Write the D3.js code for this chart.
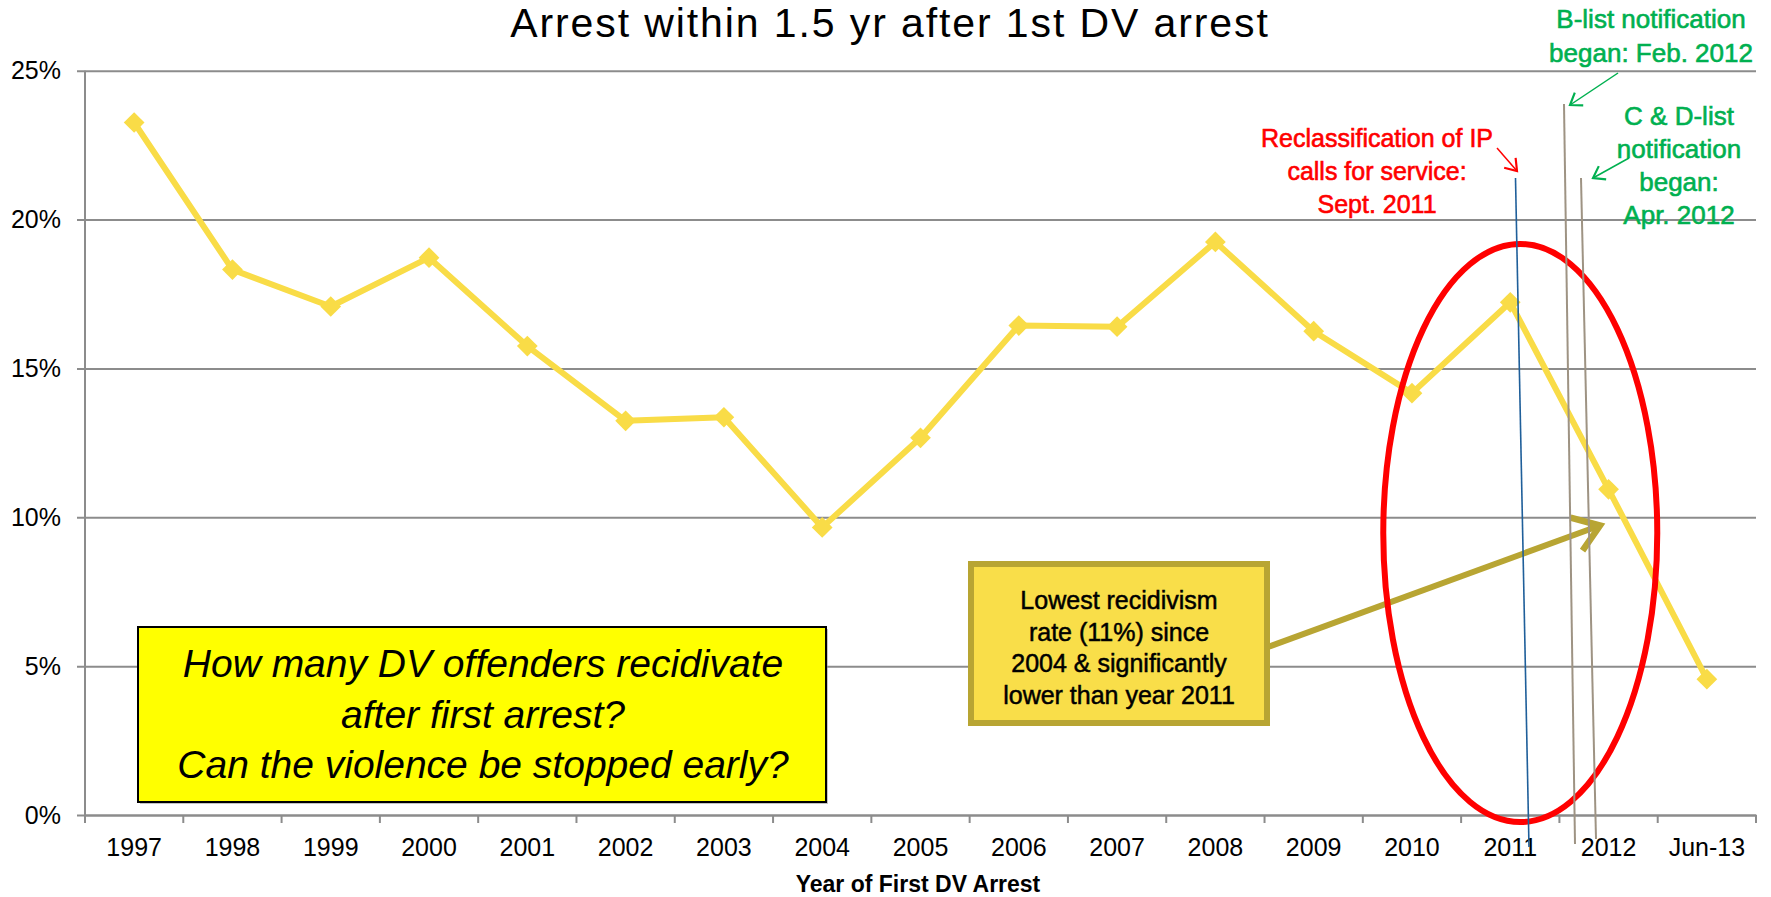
<!DOCTYPE html>
<html>
<head>
<meta charset="utf-8">
<script src="https://cdn.jsdelivr.net/npm/d3@7"></script>
<style>
  html, body {margin:0; padding:0; background:#fff;}
  svg {display:block; font-family:"Liberation Sans", Arial, sans-serif;}
</style>
</head>
<body>
<div class="svgHolder"></div>
<script>

const wd = 1771
const ht = 897

// data (percent re-arrested within 1.5 yr)
const categories = ["1997","1998","1999","2000","2001","2002","2003","2004","2005","2006","2007","2008","2009","2010","2011","2012","Jun-13"]
const rates = [23.26, 18.32, 17.08, 18.72, 15.75, 13.24, 13.36, 9.66, 12.67, 16.44, 16.40, 19.25, 16.25, 14.17, 17.22, 10.94, 4.56]
const yTicks = [0, 5, 10, 15, 20, 25]

const titleText = "Arrest within 1.5 yr after 1st DV arrest"
const xTitle = "Year of First DV Arrest"
const questionLines = ["How many DV offenders recidivate", "after first arrest?", "Can the violence be stopped early?"]
const calloutLines = ["Lowest recidivism", "rate (11%) since", "2004 & significantly", "lower than year 2011"]
const redNote = ["Reclassification of IP", "calls for service:", "Sept. 2011"]
const bNote = ["B-list notification", "began: Feb. 2012"]
const cdNote = ["C & D-list", "notification", "began:", "Apr. 2012"]

const plotL = 85, plotR = 1756, plotT = 70.7, plotB = 815

const svg = d3.select(".svgHolder").append("svg")
.attr("width", wd)
.attr("height", ht)
.attr("viewBox", `0 0 ${wd} ${ht}`)

const x = d3.scaleBand()
.domain(categories)
.range([plotL, plotR])

const y = d3.scaleLinear()
.domain([0, 25])
.range([plotB, plotT])

const defs = svg.append("defs")

// open "V" arrow heads
function addHead(id, col, size, sw) {
  defs.append("marker")
  .attr("id", id)
  .attr("markerUnits", "userSpaceOnUse")
  .attr("viewBox", "-12 -12 24 24")
  .attr("refX", 0)
  .attr("refY", 0)
  .attr("markerWidth", size)
  .attr("markerHeight", size)
  .attr("orient", "auto")
  .append("path")
  .attr("d", "M-10,-7 L0,0 L-10,7")
  .attr("fill", "none")
  .attr("stroke", col)
  .attr("stroke-width", sw)
}
addHead("redHead", "#ff0000", 26, 2)
addHead("greenHead", "#00b050", 26, 2)
addHead("oliveHead", "#b8a533", 60, 2.6)

// title (hugs the top edge, like the original)
svg.append("text")
.attr("x", 890)
.attr("y", 37)
.attr("text-anchor", "middle")
.style("font-size", "41px")
.style("letter-spacing", "1.9px")
.text(titleText)

// y axis + gridlines
const yAxis = svg.append("g")
.attr("transform", `translate(${plotL},0)`)
.call(d3.axisLeft(y)
  .tickValues(yTicks)
  .tickSize(-(plotR - plotL))
  .tickPadding(24)
  .tickFormat(d => d + "%"))

yAxis.select(".domain").remove()
yAxis.selectAll(".tick line")
.attr("x1", -8)
.attr("stroke", "#8c8c8c")
.attr("stroke-width", 2)
yAxis.selectAll(".tick text")
.style("font-size", "25px")
.style("font-family", "Liberation Sans, Arial, sans-serif")
.attr("fill", "#000")

svg.append("line")
.attr("x1", plotL).attr("x2", plotL)
.attr("y1", plotT).attr("y2", plotB + 8)
.attr("stroke", "#8c8c8c")
.attr("stroke-width", 2)

// x axis - labels centred, ticks on the category boundaries
const xAxis = svg.append("g")
.attr("transform", `translate(0,${plotB})`)
.call(d3.axisBottom(x).tickSize(0).tickPadding(16))

xAxis.select(".domain")
.attr("stroke", "#8c8c8c")
.attr("stroke-width", 2)
xAxis.selectAll(".tick text")
.attr("dy", "0")
.attr("y", 41)
.style("font-size", "25px")
.style("font-family", "Liberation Sans, Arial, sans-serif")
.attr("fill", "#000")

const bounds = categories.map(c => x(c)).concat([plotR])
svg.append("g").selectAll("line")
.data(bounds)
.enter()
.append("line")
.attr("x1", d => d).attr("x2", d => d)
.attr("y1", plotB).attr("y2", plotB + 8)
.attr("stroke", "#8c8c8c")
.attr("stroke-width", 2)

svg.append("text")
.attr("x", 918)
.attr("y", 892)
.attr("text-anchor", "middle")
.style("font-size", "23px")
.style("font-weight", "bold")
.text(xTitle)

// the series
const pts = categories.map((c, i) => ({x: x(c) + x.bandwidth() / 2, y: y(rates[i])}))

const lineFunc = d3.line()
.x(d => d.x)
.y(d => d.y)

svg.append("path")
.attr("d", lineFunc(pts))
.attr("fill", "none")
.attr("stroke", "#f9dc47")
.attr("stroke-width", 6)
.attr("stroke-linejoin", "round")

// diamonds = squares turned 45deg
svg.append("g").selectAll("path")
.data(pts)
.enter()
.append("path")
.attr("d", d3.symbol().type(d3.symbolSquare).size(215))
.attr("transform", d => `translate(${d.x},${d.y}) rotate(45)`)
.attr("fill", "#f9dc47")

// question box
const qb = svg.append("g")
qb.append("rect")
.attr("x", 140).attr("y", 629)
.attr("width", 688).attr("height", 175)
.attr("fill", "#8a8a8a")
.attr("opacity", 0.5)
qb.append("rect")
.attr("x", 138).attr("y", 627)
.attr("width", 688).attr("height", 175)
.attr("fill", "#ffff00")
.attr("stroke", "#000")
.attr("stroke-width", 2)
qb.selectAll("text")
.data(questionLines)
.enter()
.append("text")
.attr("x", 483)
.attr("y", (d, i) => 677 + i * 50.5)
.attr("text-anchor", "middle")
.style("font-size", "39px")
.style("font-style", "italic")
.text(d => d)

// callout arrow + box
svg.append("line")
.attr("x1", 1268).attr("y1", 647)
.attr("x2", 1600).attr("y2", 525.5)
.attr("stroke", "#b8a533")
.attr("stroke-width", 6)
.attr("marker-end", "url(#oliveHead)")

svg.append("rect")
.attr("x", 971).attr("y", 564)
.attr("width", 296).attr("height", 159)
.attr("fill", "#f9de49")
.attr("stroke", "#b8a533")
.attr("stroke-width", 6)

svg.append("g").selectAll("text")
.data(calloutLines)
.enter()
.append("text")
.attr("x", 1119)
.attr("y", (d, i) => 609 + i * 31.7)
.attr("text-anchor", "middle")
.attr("stroke", "#000")
.attr("stroke-width", 0.5)
.style("font-size", "25px")
.text(d => d)

// red ellipse round 2011/2012
svg.append("ellipse")
.attr("cx", (x("2011") + x("2012")) / 2 + 10)
.attr("cy", 533)
.attr("rx", 137)
.attr("ry", 289)
.attr("fill", "none")
.attr("stroke", "#ff0000")
.attr("stroke-width", 6)

// event markers
svg.append("line")
.attr("x1", 1515.5).attr("y1", 178).attr("x2", 1529).attr("y2", 847)
.attr("stroke", "#1f5f9a").attr("stroke-width", 1.6)
svg.append("line")
.attr("x1", 1564).attr("y1", 104).attr("x2", 1575).attr("y2", 844)
.attr("stroke", "#9e9383").attr("stroke-width", 2)
svg.append("line")
.attr("x1", 1581).attr("y1", 178).attr("x2", 1596).attr("y2", 839)
.attr("stroke", "#9e9383").attr("stroke-width", 2)

// notes
function note(lines, cx, y0, step, col, size) {
  svg.append("g").selectAll("text")
  .data(lines)
  .enter()
  .append("text")
  .attr("x", cx)
  .attr("y", (d, i) => y0 + i * step)
  .attr("text-anchor", "middle")
  .attr("fill", col)
  .attr("stroke", col)
  .attr("stroke-width", 0.6)
  .style("font-size", size + "px")
  .text(d => d)
}
note(redNote, 1377, 147, 33, "#ff0000", 25)
note(bNote, 1651, 28, 34, "#00b050", 26)
note(cdNote, 1679, 125, 33, "#00b050", 26)

svg.append("line")
.attr("x1", 1497).attr("y1", 148).attr("x2", 1517).attr("y2", 171)
.attr("stroke", "#ff0000").attr("stroke-width", 1.5)
.attr("marker-end", "url(#redHead)")
svg.append("line")
.attr("x1", 1618).attr("y1", 73).attr("x2", 1570).attr("y2", 105)
.attr("stroke", "#00b050").attr("stroke-width", 1.5)
.attr("marker-end", "url(#greenHead)")
svg.append("line")
.attr("x1", 1629).attr("y1", 158).attr("x2", 1593).attr("y2", 178)
.attr("stroke", "#00b050").attr("stroke-width", 1.5)
.attr("marker-end", "url(#greenHead)")

</script>
</body>
</html>
